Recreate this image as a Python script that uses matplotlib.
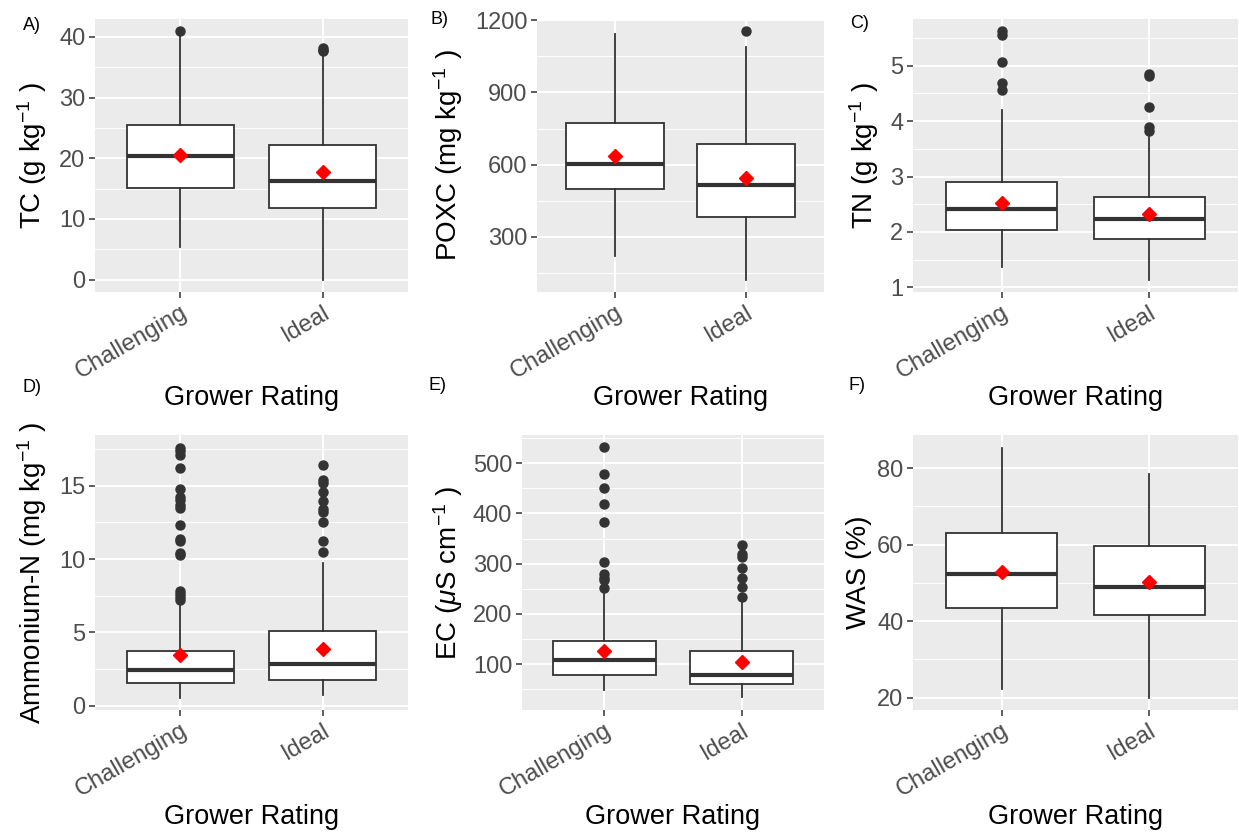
import matplotlib
matplotlib.use("Agg")
import matplotlib.pyplot as plt

plt.rcParams.update({
    "font.family": ["Liberation Sans", "DejaVu Sans"],
    "mathtext.fontset": "custom",
    "mathtext.rm": "Liberation Sans",
    "mathtext.it": "Liberation Sans:italic",
    "mathtext.bf": "Liberation Sans:bold",
})

groups = ["Challenging", "Ideal"]

# box stats per group: whislo, q1, median, q3, whishi
tc_chal = [5.3, 15.1, 20.4, 25.4, 40.3]
tc_ideal = [0.0, 11.8, 16.3, 22.1, 37.0]
tc_mean = [20.6, 17.8]
tc_out = [[40.9], [37.6, 37.9, 38.2]]
tc_ticks = [0, 10, 20, 30, 40]

poxc_chal = [219, 497, 603, 774, 1142]
poxc_ideal = [122, 381, 515, 685, 1089]
poxc_mean = [638, 546]
poxc_out = [[], [1154]]
poxc_ticks = [300, 600, 900, 1200]

tn_chal = [1.37, 2.03, 2.41, 2.90, 4.20]
tn_ideal = [1.14, 1.87, 2.23, 2.63, 3.71]
tn_mean = [2.52, 2.32]
tn_out = [[4.56, 4.68, 5.06, 5.56, 5.62], [3.83, 3.90, 4.25, 4.81, 4.86]]
tn_ticks = [1, 2, 3, 4, 5]

nh4_chal = [0.57, 1.55, 2.45, 3.72, 6.85]
nh4_ideal = [0.73, 1.73, 2.83, 5.07, 9.70]
nh4_mean = [3.49, 3.86]
nh4_out = [[7.2, 7.4, 7.6, 7.8, 10.3, 10.4, 11.2, 11.4, 12.3, 13.5, 13.7,
            14.0, 14.2, 14.8, 16.2, 17.1, 17.35, 17.6],
           [10.5, 11.2, 12.55, 13.2, 13.4, 13.95, 14.55, 15.2, 15.4, 16.4]]
nh4_ticks = [0, 5, 10, 15]

ec_chal = [49, 78, 108, 146, 239]
ec_ideal = [34, 60, 79, 127, 222]
ec_mean = [127, 105]
ec_out = [[251, 267, 272, 279, 303, 383, 419, 451, 479, 531],
          [233, 253, 271, 291, 313, 319, 337]]
ec_ticks = [100, 200, 300, 400, 500]

was_chal = [22.3, 43.5, 52.2, 63.0, 85.4]
was_ideal = [20.0, 41.6, 49.0, 59.6, 78.4]
was_mean = [52.9, 50.2]
was_out = [[], []]
was_ticks = [20, 40, 60, 80]

W, H = 1239, 833
fig = plt.figure(figsize=(W / 100, H / 100), dpi=100)

DARK = "#333333"


def stats(five, mean, fliers):
    return dict(whislo=five[0], q1=five[1], med=five[2], q3=five[3],
                whishi=five[4], mean=mean, fliers=fliers)


def panel(rect, chal, ideal, means, outs, ticks, ylabel, ylab_x, letter, letter_xy, xlab_y):
    l, t, r, b = rect
    ax = fig.add_axes([l / W, 1 - b / H, (r - l) / W, (b - t) / H])
    ax.set_facecolor("#EBEBEB")
    ax.set_axisbelow(True)
    bs = [stats(chal, means[0], outs[0]), stats(ideal, means[1], outs[1])]
    ax.bxp(bs, positions=[1, 2], widths=0.75, showmeans=True, showcaps=False,
           patch_artist=True,
           boxprops=dict(facecolor="white", edgecolor=DARK, linewidth=1.3),
           medianprops=dict(color=DARK, linewidth=3),
           whiskerprops=dict(color=DARK, linewidth=1.3),
           flierprops=dict(marker="o", markerfacecolor=DARK, markeredgecolor=DARK, markersize=6.5),
           meanprops=dict(marker="D", markerfacecolor="red", markeredgecolor="red", markersize=7.5))
    vals = chal + ideal + means + outs[0] + outs[1]
    lo, hi = min(vals), max(vals)
    pad = 0.05 * (hi - lo)
    step = ticks[1] - ticks[0]
    minor = [ticks[0] - step / 2] + [v + step / 2 for v in ticks]
    ax.set_yticks(ticks)
    ax.set_yticks(minor, minor=True)
    ax.set_ylim(lo - pad, hi + pad)
    ax.set_xlim(0.4, 2.6)
    ax.set_xticks([1, 2])
    ax.set_xticklabels(groups, rotation=30, ha="right", va="top", rotation_mode="anchor")
    ax.grid(which="major", color="white", linewidth=1.4)
    ax.grid(which="minor", axis="y", color="white", linewidth=0.7)
    ax.tick_params(which="major", length=4, width=1.1, color=DARK, labelcolor="#4D4D4D",
                   labelsize=17, pad=3)
    ax.tick_params(which="minor", length=0)
    for s in ax.spines.values():
        s.set_visible(False)
    fig.text(ylab_x / W, 1 - (t + b) / 2 / H, ylabel, rotation=90, ha="center", va="center",
             fontsize=20)
    fig.text((l + r) / 2 / W, 1 - xlab_y / H, "Grower Rating", ha="center", va="center",
             fontsize=19.5)
    fig.text(letter_xy[0] / W, 1 - letter_xy[1] / H, letter, ha="left", va="center", fontsize=13)
    return ax


panel((95, 19, 408, 292), tc_chal, tc_ideal, tc_mean, tc_out, tc_ticks,
      r"TC (g kg$^{-1}$ )", 32, "A)", (23, 25), 398)
panel((537, 19, 824, 292), poxc_chal, poxc_ideal, poxc_mean, poxc_out, poxc_ticks,
      r"POXC (mg kg$^{-1}$ )", 448, "B)", (430, 20), 398)
panel((913, 19, 1238, 292), tn_chal, tn_ideal, tn_mean, tn_out, tn_ticks,
      r"TN (g kg$^{-1}$ )", 864, "C)", (850, 24), 398)
panel((95, 435, 408, 710), nh4_chal, nh4_ideal, nh4_mean, nh4_out, nh4_ticks,
      r"Ammonium-N (mg kg$^{-1}$ )", 32, "D)", (23, 388), 817)
panel((522, 435, 824, 710), ec_chal, ec_ideal, ec_mean, ec_out, ec_ticks,
      r"EC ($\mu$S cm$^{-1}$ )", 448, "E)", (428, 386), 817)
panel((913, 435, 1238, 710), was_chal, was_ideal, was_mean, was_out, was_ticks,
      "WAS (%)", 859, "F)", (848, 386), 817)

fig.savefig("out.png", dpi=100)
